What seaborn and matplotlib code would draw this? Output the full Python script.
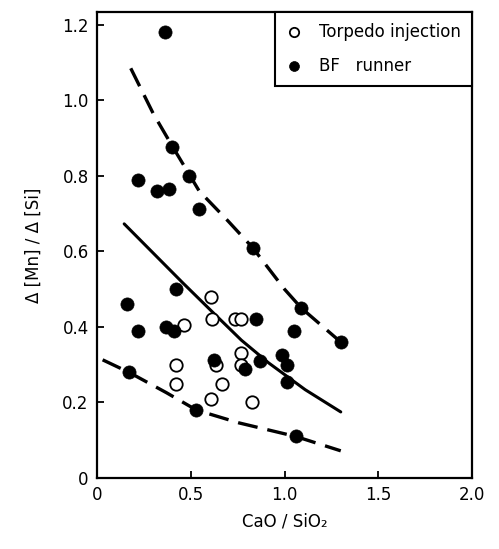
import matplotlib
matplotlib.use('Agg')
import matplotlib.pyplot as plt
import pandas as pd
import seaborn as sns

# Data
torpedo_x = [0.465, 0.61, 0.615, 0.735, 0.77, 0.635, 0.77, 0.77, 0.42, 0.42, 0.665, 0.61, 0.825]
torpedo_y = [0.404, 0.48, 0.42, 0.42, 0.42, 0.30, 0.33, 0.30, 0.30, 0.25, 0.25, 0.21, 0.20]

bf_x = [0.365, 0.40, 0.22, 0.32, 0.385, 0.49, 0.545, 0.83, 0.42, 0.16, 0.22, 0.37, 0.41,
        0.85, 1.05, 1.09, 0.625, 0.79, 0.87, 0.985, 1.015, 1.015, 0.17, 0.53, 1.06, 1.30]
bf_y = [1.18, 0.877, 0.79, 0.76, 0.766, 0.80, 0.713, 0.61, 0.50, 0.46, 0.39, 0.40, 0.39,
        0.42, 0.39, 0.45, 0.313, 0.29, 0.31, 0.325, 0.30, 0.255, 0.28, 0.18, 0.11, 0.36]

upper_x = [0.18, 0.30, 0.40, 0.545, 0.70, 0.83, 1.0, 1.09, 1.30]
upper_y = [1.085, 0.965, 0.88, 0.76, 0.68, 0.61, 0.50, 0.45, 0.36]
mid_x = [0.145, 0.265, 0.455, 0.615, 0.77, 0.915, 1.11, 1.30]
mid_y = [0.673, 0.613, 0.518, 0.44, 0.365, 0.305, 0.234, 0.175]
lower_x = [0.03, 0.17, 0.37, 0.53, 0.757, 1.06, 1.30]
lower_y = [0.313, 0.28, 0.226, 0.18, 0.146, 0.11, 0.072]

df_t = pd.DataFrame({'x': torpedo_x, 'y': torpedo_y})
df_b = pd.DataFrame({'x': bf_x, 'y': bf_y})

sns.set_style('ticks')
plt.rcParams['font.family'] = ['DejaVu Sans']
plt.rcParams['text.color'] = 'black'
plt.rcParams['axes.labelcolor'] = 'black'

fig = plt.figure(figsize=(4.99, 5.49), dpi=100)
ax = fig.add_axes([0.1944, 0.1293, 0.7515, 0.8488])

# Curves
sns.lineplot(x=upper_x, y=upper_y, ax=ax, color='black', lw=2.4, sort=False,
             estimator=None, linestyle=(0, (6, 3)))
sns.lineplot(x=mid_x, y=mid_y, ax=ax, color='black', lw=2.2, sort=False, estimator=None)
sns.lineplot(x=lower_x, y=lower_y, ax=ax, color='black', lw=2.4, sort=False,
             estimator=None, linestyle=(0, (6, 3)))

# Points
sns.scatterplot(data=df_t, x='x', y='y', ax=ax, s=80, facecolor='white',
                edgecolor='black', linewidth=1.3, label='Torpedo injection', zorder=3)
sns.scatterplot(data=df_b, x='x', y='y', ax=ax, s=90, color='black',
                edgecolor='black', linewidth=0.5, label='BF   runner', zorder=4)

ax.set_xlim(0, 2.0)
ax.set_ylim(0, 1.234)
ax.set_xticks([0, 0.5, 1.0, 1.5, 2.0])
ax.set_xticklabels(['0', '0.5', '1.0', '1.5', '2.0'])
ax.set_yticks([0, 0.2, 0.4, 0.6, 0.8, 1.0, 1.2])
ax.set_yticklabels(['0', '0.2', '0.4', '0.6', '0.8', '1.0', '1.2'])
ax.tick_params(direction='in', length=5, width=1.3, labelsize=12, colors='black', pad=6)
for sp in ax.spines.values():
    sp.set_linewidth(1.6)
    sp.set_color('black')

ax.set_xlabel('CaO / SiO\u2082', fontsize=12, labelpad=6)
ax.set_ylabel('\u0394 [Mn] / \u0394 [Si]', fontsize=12, labelpad=14)

leg = ax.legend(loc='upper right', borderaxespad=0, fontsize=12, frameon=True,
                fancybox=False, labelspacing=0.95, handletextpad=1.0,
                borderpad=0.65, handlelength=1.0, markerscale=0.75)
leg.get_frame().set_edgecolor('black')
leg.get_frame().set_linewidth(1.5)
leg.get_frame().set_alpha(1)
for t in leg.get_texts():
    t.set_color('black')

fig.savefig('out.png', dpi=100)
